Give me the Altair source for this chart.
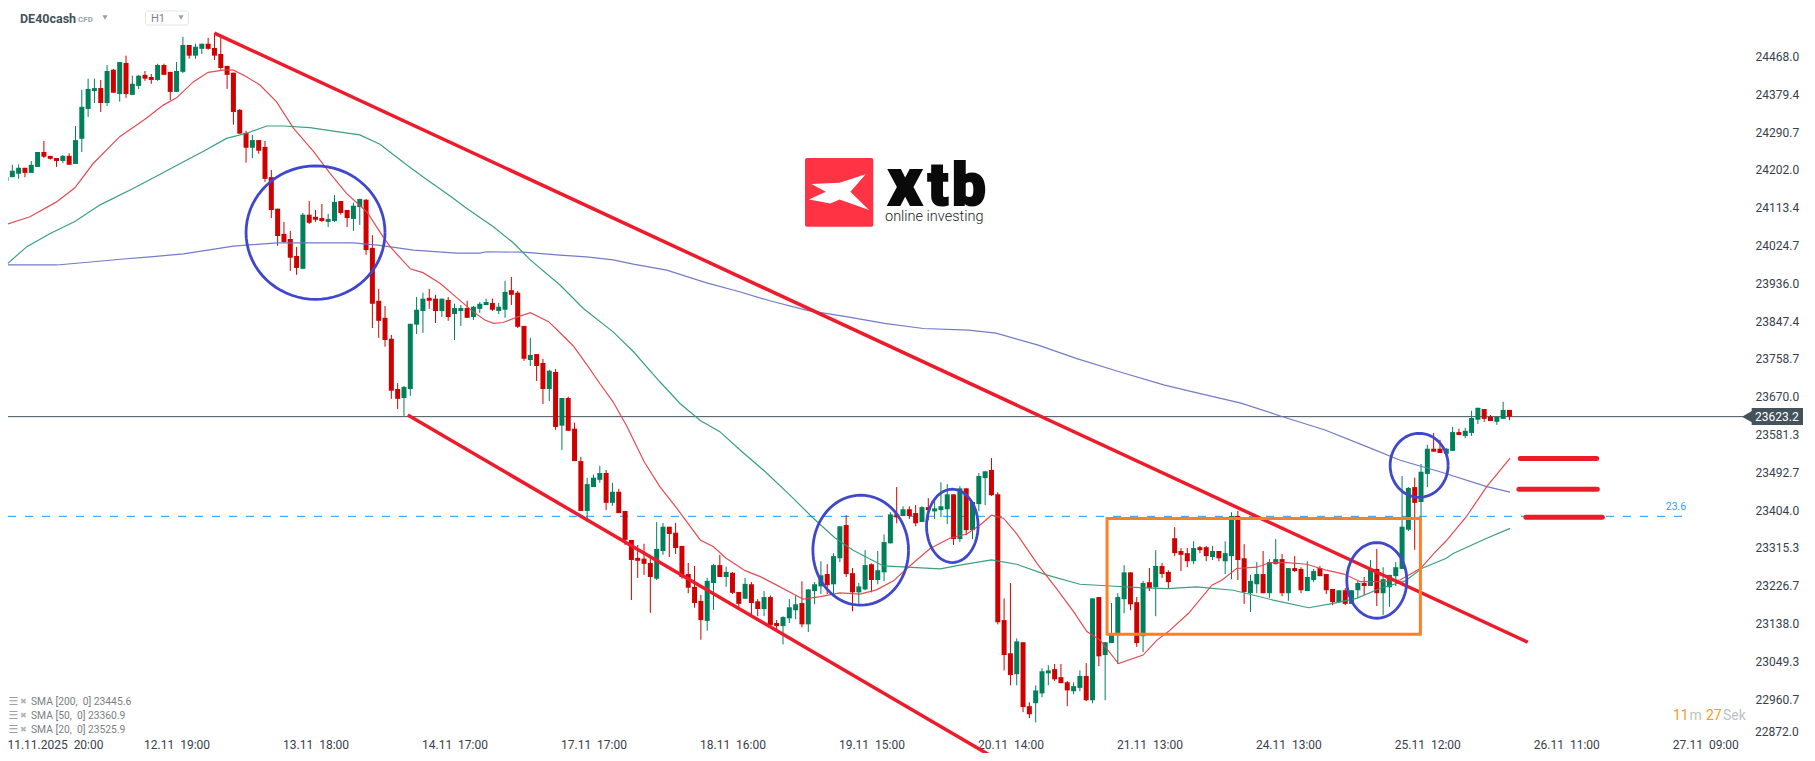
import json
import numpy as np
import pandas as pd
import altair as alt

OPEN = [24176,24185,24193,24207,24195,24209,24244,24235,24230,24223,
24235,24216,24275,24345,24387,24394,24359,24437,24380,24453,
24378,24399,24425,24420,24413,24448,24432,24385,24432,24495,
24470,24486,24498,24488,24474,24446,24430,24343,24289,24254,
24272,24256,24185,24111,24052,24040,24000,23970,24097,24092,
24089,24080,24082,24129,24108,24087,24115,24132,24019,23895,
23855,23806,23688,23667,23688,23839,23871,23902,23900,23871,
23897,23864,23871,23878,23857,23876,23885,23890,23871,23874,
23920,23914,23836,23756,23770,23749,23688,23728,23602,23667,
23595,23519,23402,23458,23475,23491,23421,23447,23402,23334,
23292,23290,23280,23243,23308,23365,23351,23320,23254,23224,
23191,23144,23233,23275,23247,23257,23212,23196,23230,23190,
23172,23200,23139,23132,23150,23169,23186,23136,23214,23225,
23254,23230,23291,23369,23256,23211,23218,23277,23240,23258,
23326,23394,23390,23406,23397,23376,23411,23401,23404,23406,
23441,23336,23455,23357,23418,23479,23498,23441,23146,23068,
23019,23094,22944,22951,22974,23021,23031,23012,23000,22979,
22987,23015,22958,23200,23064,23092,23113,23195,23258,23188,
23108,23235,23223,23273,23259,23338,23308,23303,23284,23317,
23317,23294,23308,23284,23296,23390,23291,23209,23230,23254,
23209,23277,23289,23209,23268,23266,23214,23240,23268,23254,
23219,23188,23216,23184,23216,23233,23226,23266,23209,23223,
23249,23266,23358,23458,23423,23489,23548,23548,23536,23543,
23587,23578,23585,23616,23641,23623,23611,23618,23639]

HIGH = [24196,24214,24215,24207,24223,24244,24270,24235,24230,24237,
24241,24305,24390,24416,24416,24413,24448,24439,24455,24470,
24423,24425,24434,24427,24451,24451,24432,24455,24514,24495,
24498,24498,24512,24523,24516,24446,24430,24345,24294,24284,
24272,24270,24202,24111,24080,24059,24021,24101,24129,24108,
24122,24099,24143,24129,24108,24125,24134,24134,24049,23923,
23883,23815,23702,23695,23841,23904,23914,23923,23909,23900,
23904,23888,23885,23895,23883,23892,23900,23900,23890,23942,
23951,23918,23836,23808,23770,23759,23733,23735,23667,23670,
23609,23529,23480,23487,23508,23498,23468,23454,23402,23334,
23322,23325,23292,23376,23374,23365,23374,23320,23280,23273,
23205,23245,23278,23299,23271,23259,23212,23245,23235,23195,
23214,23204,23146,23155,23195,23204,23237,23218,23235,23284,
23277,23303,23366,23392,23268,23233,23310,23279,23308,23347,
23399,23458,23413,23413,23416,23413,23432,23427,23469,23465,
23441,23460,23455,23423,23491,23495,23526,23446,23197,23233,
23103,23094,22953,22993,23033,23040,23043,23043,23003,23000,
23028,23045,23197,23200,23094,23186,23209,23275,23258,23200,
23238,23268,23310,23280,23263,23364,23315,23315,23331,23320,
23320,23320,23308,23331,23399,23402,23324,23252,23282,23308,
23289,23336,23301,23268,23296,23270,23284,23266,23273,23254,
23219,23216,23221,23216,23238,23247,23287,23313,23270,23252,
23282,23484,23458,23480,23512,23557,23585,23569,23550,23599,
23595,23597,23637,23644,23641,23627,23623,23658,23639]

LOW = [24165,24185,24181,24185,24195,24209,24230,24226,24209,24218,
24214,24216,24244,24326,24359,24338,24352,24383,24362,24371,
24378,24392,24411,24404,24411,24425,24366,24385,24429,24463,
24463,24474,24484,24460,24437,24392,24308,24287,24219,24230,
24240,24174,24089,24024,24031,23965,23956,23970,24075,24080,
24080,24068,24080,24097,24068,24059,24073,24003,23831,23808,
23787,23665,23641,23625,23672,23817,23820,23876,23843,23857,
23848,23803,23836,23855,23850,23867,23885,23871,23864,23855,
23885,23831,23754,23742,23707,23653,23660,23592,23545,23590,
23519,23402,23376,23458,23468,23404,23414,23397,23322,23193,
23245,23252,23163,23240,23299,23294,23301,23243,23209,23175,
23100,23121,23170,23247,23224,23207,23177,23196,23155,23155,
23155,23132,23122,23089,23139,23148,23129,23118,23183,23207,
23207,23207,23282,23247,23167,23179,23216,23211,23230,23237,
23326,23373,23390,23383,23366,23376,23380,23383,23387,23371,
23322,23329,23345,23336,23401,23416,23437,23136,23028,22993,
22993,22930,22916,22906,22965,22993,23003,22998,22944,22972,
22979,22956,22951,23038,22958,23092,23043,23162,23169,23083,
23071,23214,23155,23245,23221,23296,23261,23270,23277,23303,
23284,23287,23284,23254,23242,23240,23184,23165,23209,23209,
23198,23277,23202,23191,23259,23209,23214,23235,23249,23207,
23181,23186,23181,23184,23198,23205,23226,23179,23158,23177,
23226,23266,23355,23311,23389,23458,23541,23538,23536,23543,
23580,23573,23578,23606,23611,23613,23604,23618,23615]

CLOSE = [24185,24200,24207,24195,24214,24244,24233,24228,24223,24235,
24214,24272,24350,24392,24394,24359,24434,24383,24455,24380,
24404,24423,24416,24413,24448,24425,24385,24434,24495,24470,
24491,24498,24486,24470,24441,24425,24338,24287,24254,24272,
24247,24181,24108,24047,24033,23996,23972,24097,24078,24085,
24082,24087,24127,24101,24089,24118,24134,24014,23888,23848,
23803,23684,23665,23693,23841,23874,23900,23895,23871,23900,
23857,23878,23878,23855,23881,23888,23892,23874,23881,23916,
23909,23834,23759,23768,23742,23688,23731,23599,23667,23590,
23519,23402,23465,23480,23491,23421,23447,23397,23334,23287,
23285,23278,23247,23313,23365,23348,23315,23247,23222,23186,
23146,23238,23275,23247,23259,23210,23184,23231,23186,23172,
23200,23134,23132,23153,23176,23183,23136,23218,23230,23251,
23228,23296,23366,23254,23211,23225,23275,23240,23263,23329,
23394,23387,23406,23390,23373,23411,23404,23408,23413,23441,
23336,23455,23357,23423,23484,23495,23439,23141,23064,23017,
23096,22942,22925,22981,23026,23028,23007,22998,22981,22991,
23015,22958,23197,23061,23094,23113,23200,23258,23183,23092,
23233,23221,23273,23254,23235,23303,23299,23284,23315,23310,
23296,23308,23291,23303,23390,23287,23212,23238,23254,23209,
23282,23289,23209,23268,23261,23216,23247,23261,23249,23216,
23188,23216,23184,23216,23233,23226,23266,23209,23242,23252,
23270,23365,23456,23421,23494,23548,23541,23538,23548,23587,
23580,23590,23620,23644,23618,23613,23623,23639,23623.2]

SMA20_K = [0,3.8,8,10.9,13.8,18,22,24.9,27,29.7,32,34.4,36,37.8,40.2,42.8,45.5,48.7,51.3,53.9,57.1,59.7,60.8,64,66,68.7,71.3,74,75.8,77.2,78.7,80.8,83,85.9,87.7,89.8,92,94,96.1,98.3,101,103.5,106.2,109.9,112,114,117,119.4,
122,126.2,128.9,132,135.2,137.8,140.5,142.6,146.3,149.4,152.1,154.2,156,157.9,160,163.2,166.3,169,171.1,173.2,176.1,
180,182.2,184,187.2,190.9,192.5,194.8,198,200.1,202.8,205.9,209,211.8,214.4,218,220.7,224,226,228,231.2,234.4,238.1]
SMA20_P = [24074,24092,24127,24160,24217,24280,24321,24354,24371,24409,24431,24436,24436,24423,24401,24362,24300,24245,24194,24147,24104,24045,24022,23970,23961,23936,23903,23869,23850,23842,23844,23856,23867,23846,23820,23789,23744,23701,23658,23600,23518,23459,23408,23334,23318,23291,23262,23248,
23228,23195,23201,23210,23207,23217,23238,23267,23314,23338,23348,23369,23392,23385,23348,23279,23220,23166,23119,23099,23044,
23064,23099,23119,23162,23228,23240,23267,23270,23281,23281,23277,23263,23254,23236,23236,23240,23268,23302,23332,23389,23459,23526]

SMA50_K = [0,3.3,7,10.9,14.9,20.2,24.4,28.1,31.2,34.9,38.1,41.3,43.9,48.1,51.3,56,59.2,63.4,66.1,70.3,72.9,77.1,80.3,83,87.7,91.4,96.1,99.3,103.5,106.7,109.9,113,116.2,
120.2,124.1,127.8,131.2,134.1,138.9,142.6,147.9,151,156,160,164.7,170,174.8,179.5,183.8,188.5,194.3,200.6,206.2,210.1,213.8,217.5,221.5,224.1,228,229.1,234.4,238.1]
SMA50_P = [23979,24022,24053,24081,24120,24159,24192,24221,24245,24276,24288,24305,24305,24301,24294,24284,24262,24214,24185,24141,24112,24069,24031,23991,23932,23877,23822,23776,23705,23654,23614,23588,23545,
23494,23439,23385,23339,23310,23273,23270,23266,23275,23287,23277,23252,23230,23226,23222,23220,23224,23216,23193,23175,23185,23197,23220,23238,23267,23291,23302,23338,23361]

SMA200_K = [0,8,11.2,18.6,22.8,28.1,36,42.9,55,59.2,64.5,71.3,75,76.1,81.9,87.7,91.9,96.1,99.3,104.6,110.9,115.7,120.9,127,133,139.1,145.2,152.4,156.7,163.4,169.4,176.1,183.4,189.4,195.5,202.1,208.8,215.4,220.7,227,234.4,238.1]
SMA200_P = [23979,23979,23983,23993,23998,24005,24023,24031,24031,24025,24014,24007,24007,24010,24009,24002,23998,23991,23981,23967,23937,23918,23895,23872,23858,23842,23830,23826,23819,23791,23760,23729,23697,23676,23655,23623,23592,23553,23521,23494,23459,23446]

Y_TICKS = [24468.0,24379.4,24290.7,24202.0,24113.4,24024.7,23936.0,23847.4,23758.7,23670.0,23581.3,23492.7,23404.0,23315.3,23226.7,23138.0,23049.3,22960.7]
X_TICK_K = [7.75,27,49,71,93,115,137,159,181,203,225,247,269]
X_TICK_LABELS = ["11.11.2025\u00a0\u00a020:00","12.11\u00a0\u00a019:00","13.11\u00a0\u00a018:00","14.11\u00a0\u00a017:00","17.11\u00a0\u00a017:00","18.11\u00a0\u00a016:00","19.11\u00a0\u00a015:00","20.11\u00a0\u00a014:00","21.11\u00a0\u00a013:00","24.11\u00a0\u00a013:00","25.11\u00a0\u00a012:00","26.11\u00a0\u00a011:00","27.11\u00a0\u00a009:00"]

# trend lines: start k, start price, end k, end price
TRENDS = [(33,24523,240.9,23094),(63.6,23627,157,22818)]
LEVELS = [(239.7,251.8,23525),(239.5,251.9,23453),(240.6,252.7,23387)]
# ellipses: centre k, centre price, radius k, radius price
ELLIPSES = [(49,24055,11,156.5),(135.3,23310,7.57,129),(149.8,23367,4.08,86),(217,23239,4.75,88.7),(223.7,23509,4.59,75)]
BOX = dict(k=174.3,k2=223.9,p=23384,p2=23113)
CURRENT = 23623.2
FIB = 23389.4
LEGEND_ROWS = ["SMA\u00a0[200,\u00a0\u00a00]\u00a023445.6","SMA\u00a0[50,\u00a0\u00a00]\u00a023360.9","SMA\u00a0[20,\u00a0\u00a00]\u00a023525.9"]

FONT = "Roboto"
W, H = 1799, 745
xs = alt.Scale(domain=[0.317, 285.1], nice=False, zero=False, padding=0)
ys = alt.Scale(domain=[22834.2, 24581.8], nice=False, zero=False, padding=0)

label_expr = "datum.value < 10 ? %s : %s[(datum.value-27)/22]" % (
    json.dumps(X_TICK_LABELS[0], ensure_ascii=False), json.dumps(X_TICK_LABELS[1:], ensure_ascii=False))
x_axis = alt.Axis(values=X_TICK_K, labelExpr=label_expr, orient="bottom", offset=-14, grid=False, domain=False,
                  ticks=False, labelPadding=0, labelFont=FONT, labelFontSize=12, labelColor="#37414a",
                  labelOverlap=False, labelFlush=False, labelBound=False, title=None)
y_axis = alt.Axis(values=Y_TICKS, format=".1f", orient="right", offset=-52, grid=False, domain=False, ticks=False,
                  labelPadding=0, labelFont=FONT, labelFontSize=12, labelColor="#37414a", labelOverlap=False,
                  labelBound=False, labelFlush=False, title=None)

def X(f="k"):
    return alt.X(f"{f}:Q", scale=xs, axis=x_axis)
def Y(f="p"):
    return alt.Y(f"{f}:Q", scale=ys, axis=y_axis)

candles = pd.DataFrame({"k": range(len(OPEN)), "o": OPEN, "h": HIGH, "l": LOW, "c": CLOSE})
candles["dir"] = np.where(candles.c >= candles.o, "up", "down")
col = alt.Color("dir:N", scale=alt.Scale(domain=["up", "down"], range=["#00805A", "#CF0000"]), legend=None)

wicks = alt.Chart(candles).mark_rule(strokeWidth=1).encode(x=X(), y=Y("h"), y2="l:Q", color=col)
bodies = alt.Chart(candles).mark_bar(size=5).encode(x=X(), y=Y("o"), y2="c:Q", color=col)

def sma(k, p, color):
    return alt.Chart(pd.DataFrame({"k": k, "p": p})).mark_line(color=color, strokeWidth=1.2, opacity=0.95).encode(x=X(), y=Y())

sma200 = sma(SMA200_K, SMA200_P, "#6C73C4")
sma50 = sma(SMA50_K, SMA50_P, "#2F9A78")
sma20 = sma(SMA20_K, SMA20_P, "#E2424A")

price_line = alt.Chart(pd.DataFrame({"k": [0.317], "k2": [276], "p": [CURRENT]})).mark_rule(color="#44525C", strokeWidth=1).encode(x=X(), x2="k2:Q", y=Y())
fib_line = alt.Chart(pd.DataFrame({"k": [0.317], "k2": [266.7], "p": [FIB]})).mark_rule(color="#1E96F5", strokeWidth=1, strokeDash=[8, 9]).encode(x=X(), x2="k2:Q", y=Y())

tr = pd.DataFrame(TRENDS, columns=["k", "p", "k2", "p2"])
trends = alt.Chart(tr).mark_rule(color="#EE1C2B", strokeWidth=3.5).encode(x=X(), x2="k2:Q", y=Y(), y2="p2:Q")
lv = pd.DataFrame(LEVELS, columns=["k", "k2", "p"])
levels = alt.Chart(lv).mark_rule(color="#EE1C2B", strokeWidth=5, strokeCap="round").encode(x=X(), x2="k2:Q", y=Y())

rows = []
theta = np.linspace(0, 2 * np.pi, 73)
for e, (ck, cp, rk, rp) in enumerate(ELLIPSES):
    for i, t in enumerate(theta):
        rows.append({"e": e, "i": i, "k": ck + rk * np.cos(t), "p": cp + rp * np.sin(t)})
ellipses = alt.Chart(pd.DataFrame(rows)).mark_line(color="#3F48CC", strokeWidth=2.8).encode(x=X(), y=Y(), detail="e:N", order="i:Q")

box = alt.Chart(pd.DataFrame([BOX])).mark_rect(filled=False, stroke="#FF7F27", strokeWidth=3).encode(x=X(), x2="k2:Q", y=Y(), y2="p2:Q")

def T(text, px, py, size=12, color="#37414a", align="left", font=FONT, weight="normal", base="middle", **kw):
    return alt.Chart(pd.DataFrame({"a": [0]})).mark_text(text=text, fontSize=size, color=color, align=align, font=font,
                                                         fontWeight=weight, baseline=base, **kw).encode(
        x=alt.value(px - 8), y=alt.value(py - 8))

def P(shape, px, py, size, color):
    return alt.Chart(pd.DataFrame({"a": [0]})).mark_point(shape=shape, filled=True, size=size, color=color, opacity=1).encode(
        x=alt.value(px - 8), y=alt.value(py - 8))

def R(x1, y1, x2, y2, **kw):
    return alt.Chart(pd.DataFrame({"a": [0]})).mark_rect(**kw).encode(
        x=alt.value(x1 - 8), x2=alt.value(x2 - 8), y=alt.value(y1 - 8), y2=alt.value(y2 - 8))

decor = [
    # current-price badge
    P("triangle-left", 1748, 416.7, 190, "#44525C"),
    R(1751.7, 408, 1803, 425, color="#44525C"),
    T("23623.2", 1755, 416.7, color="#ffffff"),
    T("22872.0", 1755, 731.7),
    T("23.6", 1676, 507.3, size=10.5, color="#2E9CF5", align="center"),
    # header
    T("DE40cash", 20, 19, size=12.5, color="#44525C", weight="bold"),
    T("CFD", 78, 19.5, size=8, color="#9aa3aa", weight="bold"),
    P("triangle-down", 105, 17.5, 28, "#9aa3aa"),
    R(145.5, 11, 188.5, 25, filled=False, stroke="#E3E5E8", strokeWidth=1, cornerRadius=2),
    T("H1", 151, 19, size=11, color="#7a848c"),
    P("triangle-down", 181, 17.5, 28, "#9aa3aa"),
    # logo
    R(805, 158, 873.3, 226.7, color="#FF3344", cornerRadius=2),
    P("M-0.92,-0.26 L0.02,-0.3 L0.89,-0.58 L0.38,0 L1,0.61 L0.02,0.26 L-0.29,0.39 L-1,0.26 L-0.44,0 Z", 839, 191.7, 3600, "#FFFFFF"),
    T("x", 905, 205, size=66, color="#0a0a0a", weight=900, align="center", base="alphabetic", stroke="#0a0a0a", strokeWidth=2),
    T("t", 938, 205, size=60, color="#0a0a0a", weight=900, align="center", base="alphabetic", stroke="#0a0a0a", strokeWidth=2),
    T("b", 969, 205, size=60, color="#0a0a0a", weight=900, align="center", base="alphabetic", stroke="#0a0a0a", strokeWidth=2),
    T("online investing", 885, 216.5, size=14.5, color="#222222", weight=300),
    # timer
    T("11", 1673, 716, size=14, color="#FF9A1F"),
    T("m", 1689.5, 716, size=14, color="#BCC2C7"),
    T("27", 1706, 716, size=14, color="#FF9A1F"),
    T("Sek", 1723, 716, size=14, color="#BCC2C7"),
]
for i, (row, py) in enumerate(zip(LEGEND_ROWS, [702, 716, 729.5])):
    decor += [
        T("\u2630", 8.5, py, size=11, color="#9aa0a5", font="DejaVu Sans"),
        T("\u2716", 20, py, size=8, color="#b0b5b9", font="DejaVu Sans"),
        T(row, 31, py, size=10.3, color="#7a7f84"),
    ]

chart = alt.layer(price_line, fib_line, wicks, bodies, sma200, sma50, sma20, trends, levels, box, ellipses, *decor).properties(
    width=W, height=H, autosize=alt.AutoSizeParams(type="none"), padding=0, background="#ffffff"
).configure_view(stroke=None)

chart.save("out.html", embed_options={"renderer": "svg", "actions": False})
